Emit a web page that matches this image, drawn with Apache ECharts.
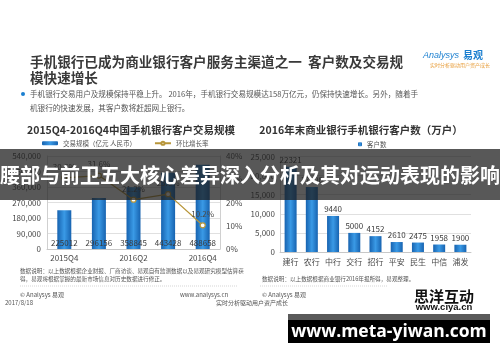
<!DOCTYPE html>
<html><head><meta charset="utf-8">
<script src="https://cdn.jsdelivr.net/npm/echarts@6/dist/echarts.min.js"></script>
<style>html,body{margin:0;padding:0;background:#fff}#c{width:500px;height:362px}</style>
</head><body><div id="c"></div>
<script>
const quarters = ['2015Q4','2016Q1','2016Q2','2016Q3','2016Q4'];
const tradeVolume = [225012,296156,358845,443428,488658];
const growthRate = [30.6,31.6,21.2,23.6,10.2];
const banks = ['建行','农行','中行','交行','招行','平安','民生','中信','浦发'];
const customers = [22321,17000,9440,5000,4152,2610,2475,1958,1900];

const F = '"Noto Sans CJK SC", "Noto Sans", sans-serif';
const chart = echarts.init(document.getElementById('c'), null, {renderer:'canvas'});
const barGrad = new echarts.graphic.LinearGradient(0,0,1,0,[
  {offset:0,color:'#1763b0'},{offset:0.5,color:'#3a9ae6'},{offset:1,color:'#1763b0'}]);
const axisTxt = {color:'#4a4a4a', fontSize:8, fontFamily:F};
const gridLine = {show:true, lineStyle:{color:'#e0e0e0', width:1}};
function txt(x,y,s,size,color,opts,z){
  return {type:'text', x:x, y:y, z:z||50, style:Object.assign({text:s, fontSize:size, fill:color, fontFamily:F, verticalAlign:'middle'}, opts||{})};
}
const option = {
  backgroundColor:'#fff',
  animation:false,
  legend:[
    {data:['交易规模（亿元 人民币）','环比增长率'], left:42, top:140, padding:0, itemWidth:16, itemHeight:4, itemGap:18,
     textStyle:{fontSize:6.5, color:'#555', fontFamily:F}},
    {data:['客户数'], left:358, top:141, padding:0, itemWidth:4, itemHeight:4,
     textStyle:{fontSize:6.5, color:'#555', fontFamily:F}}
  ],
  grid:[
    {left:47, right:280, top:156, bottom:113, containLabel:false},
    {left:280, right:29, top:156.5, bottom:110, containLabel:false}
  ],
  xAxis:[
    {type:'category', gridIndex:0, data:quarters, axisTick:{show:false},
     axisLine:{lineStyle:{color:'#c8c8c8'}}, axisLabel:Object.assign({margin:5}, axisTxt)},
    {type:'category', gridIndex:1, data:banks, axisTick:{show:false},
     axisLine:{lineStyle:{color:'#c8c8c8'}}, axisLabel:Object.assign({margin:6}, axisTxt)}
  ],
  yAxis:[
    {type:'value', gridIndex:0, min:0, max:540000, interval:90000,
     axisLine:{show:true, lineStyle:{color:'#d0d0d0'}}, axisTick:{show:false}, splitLine:gridLine,
     axisLabel:Object.assign({margin:6}, axisTxt)},
    {type:'value', gridIndex:0, min:0, max:40, interval:10, position:'right',
     axisLine:{show:true, lineStyle:{color:'#d0d0d0'}}, axisTick:{show:false}, splitLine:{show:false},
     axisLabel:Object.assign({margin:6, formatter:'{value}%'}, axisTxt)},
    {type:'value', gridIndex:1, min:0, max:25000, interval:5000,
     axisLine:{show:true, lineStyle:{color:'#d0d0d0'}}, axisTick:{show:false}, splitLine:gridLine,
     axisLabel:Object.assign({margin:5}, axisTxt)}
  ],
  series:[
    {name:'交易规模（亿元 人民币）', type:'bar', xAxisIndex:0, yAxisIndex:0, data:tradeVolume, barWidth:14,
     itemStyle:{color:barGrad},
     label:{show:true, position:'insideBottom', distance:2, fontSize:8, color:'#3a3a3a', fontFamily:F}},
    {name:'环比增长率', type:'line', xAxisIndex:0, yAxisIndex:1, data:growthRate, z:5,
     symbol:'circle', symbolSize:5, lineStyle:{color:'#b8963a', width:1.3},
     itemStyle:{color:'#fff', borderColor:'#b8963a', borderWidth:1.2},
     label:{show:true, position:'top', distance:4, fontSize:8, color:'#4a4a4a', fontFamily:F, formatter:'{c}%'}},
    {name:'客户数', type:'bar', xAxisIndex:1, yAxisIndex:2, data:customers, barWidth:12,
     itemStyle:{color:barGrad},
     label:{show:true, position:'top', distance:3, fontSize:8, color:'#3a3a3a', fontFamily:F}}
  ],
  graphic:[
    txt(30,62,'手机银行已成为商业银行客户服务主渠道之一  客户数及交易规',13.6,'#3a3a3a',{fontWeight:'bold'}),
    txt(30,78,'模快速增长',13.6,'#3a3a3a',{fontWeight:'bold'}),
    txt(423,55,'Analysys',9,'#1a7fd0',{fontStyle:'italic', fontFamily:'"Liberation Sans", sans-serif'}),
    txt(463,55,'易观',10,'#1a7fd0',{fontWeight:'bold'}),
    txt(430,65,'实时分析驱动用户资产成长',5,'#e8a040'),
    {type:'circle', shape:{cx:23, cy:94, r:2}, style:{fill:'#1a7fd0'}, z:50},
    txt(30,94,'手机银行交易用户及规模保持平稳上升。 2016年，手机银行交易规模达158万亿元，仍保持快速增长。另外，随着手',7.6,'#555'),
    txt(30,108,'机银行的快速发展，其客户数将赶超网上银行。',7.6,'#555'),
    txt(131,130,'2015Q4-2016Q4中国手机银行客户交易规模',10.5,'#333',{fontWeight:'bold', align:'center'}),
    txt(361,130,'2016年末商业银行手机银行客户数（万户）',10.5,'#333',{fontWeight:'bold', align:'center'}),
    txt(20,271,'数据说明：以上数据根据企业财报、厂商访谈、易观自有监测数据以及易观研究模型估算获',5.6,'#555'),
    txt(20,279,'得，易观将根据掌握的最新市场信息对历史数据进行修正。',5.6,'#555'),
    txt(262,279,'数据说明：以上数据根据商业银行2016年报所得，易观整理。',5.6,'#555'),
    {type:'line', shape:{x1:20, y1:286, x2:237, y2:286}, style:{stroke:'#bbb', lineWidth:0.6, lineDash:[1,1]}, z:50},
    {type:'line', shape:{x1:260, y1:286, x2:388, y2:286}, style:{stroke:'#bbb', lineWidth:0.6, lineDash:[1,1]}, z:50},
    txt(20,295,'© Analysys 易观',6,'#555'),
    txt(180,295,'www.analysys.cn',6,'#555'),
    txt(262,295,'© Analysys 易观',6,'#555'),
    txt(5,303,'2017/8/18',6,'#555'),
    txt(216,303,'实时分析驱动用户资产成长',6,'#555'),
    txt(444,296,'思洋互动',15,'#111',{fontWeight:'bold', align:'center'}),
    txt(444,307,'www.ciya.cn',9.5,'#111',{fontWeight:'bold', align:'center', fontFamily:'"Liberation Sans", sans-serif'}),
    {type:'rect', shape:{x:0, y:149, width:500, height:51}, style:{fill:'rgba(30,30,30,0.74)'}, z:90},
    txt(250,175,'腰部与前卫五大核心差异深入分析及其对运动表现的影响',20,'#fff',{fontWeight:'bold', align:'center'},95),
    {type:'rect', shape:{x:288, y:314, width:202, height:29}, style:{fill:'#000'}, z:90},
    {type:'rect', shape:{x:288, y:314, width:202, height:6}, style:{fill:'#5a5a5a'}, z:91},
    txt(389,332,'www.meta-yiwan.com',17.5,'#fff',{fontWeight:'bold', align:'center', fontFamily:'"Open Sans", sans-serif'},95)
  ]
};
chart.setOption(option);
</script></body></html>
